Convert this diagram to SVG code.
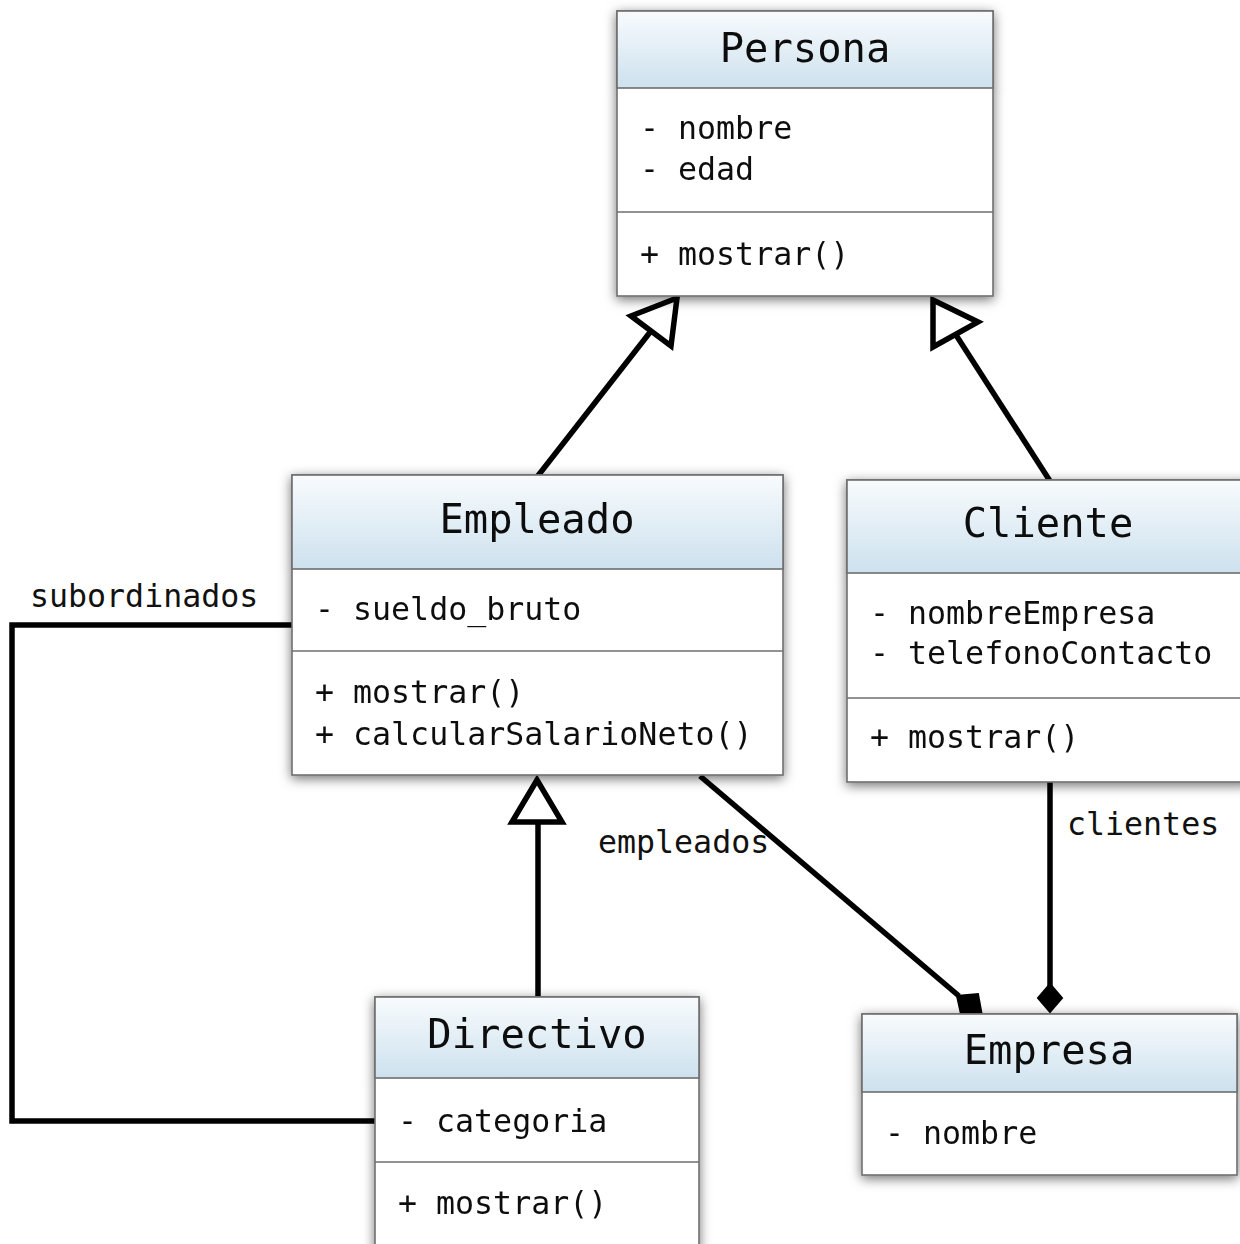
<svg xmlns="http://www.w3.org/2000/svg" width="1240" height="1244" viewBox="0 0 1240 1244">
<defs>
<linearGradient id="hdr" x1="0" y1="0" x2="0" y2="1">
<stop offset="0" stop-color="#f8fbfd"/>
<stop offset="1" stop-color="#cde1ee"/>
</linearGradient>
<filter id="sh" x="-10%" y="-10%" width="120%" height="120%">
<feDropShadow dx="0" dy="3" stdDeviation="6" flood-color="#000" flood-opacity="0.55"/>
</filter>
<style>
.box{fill:#fff;stroke:#6e6e6e;stroke-width:1.6}
.hd{fill:url(#hdr);stroke:#6e6e6e;stroke-width:1.6}
.sep{stroke:#6e6e6e;stroke-width:1.6}
.t{font-family:"DejaVu Sans Mono","Liberation Mono",monospace;font-size:40.5px;fill:#111;text-anchor:middle}
.a{font-family:"DejaVu Sans Mono","Liberation Mono",monospace;font-size:31.6px;fill:#111}
.ln{fill:none;stroke:#000;stroke-width:5.5;stroke-linejoin:miter}
.gen{fill:#fff;stroke:#000;stroke-width:5.5;stroke-linejoin:miter}
.dia{fill:#000;stroke:#000;stroke-width:2}
</style>
</defs>
<rect width="1240" height="1244" fill="#fff"/>
<g id="connectors">
<line class="ln" x1="537" y1="477" x2="651" y2="331"/>
<polygon class="gen" points="677,298 631,316 671,346"/>
<line class="ln" x1="1050" y1="481" x2="956" y2="335"/>
<polygon class="gen" points="933,300 978,322 933,347"/>
<line class="ln" x1="538" y1="998" x2="538" y2="822"/>
<polygon class="gen" points="537,780 512,822 562,822"/>
<line class="ln" x1="700" y1="776" x2="959" y2="996"/>
<polygon class="dia" points="982,1016 961,1014 957,996 978,994"/>
<line class="ln" x1="1050" y1="782" x2="1050" y2="986"/>
<polygon class="dia" points="1050,984 1062,998 1050,1012 1038,998"/>
<polyline class="ln" points="293,625 12,625 12,1121 377,1121"/>
<text class="a" x="30" y="607">subordinados</text>
<text class="a" x="598" y="853">empleados</text>
<text class="a" x="1067" y="835">clientes</text>
</g>
<g id="Persona" filter="url(#sh)">
<rect class="box" x="617" y="11" width="376" height="285"/>
<rect class="hd" x="617" y="11" width="376" height="77"/>
<line class="sep" x1="617" y1="212" x2="993" y2="212"/>
<text class="t" x="805" y="62">Persona</text>
<text class="a" x="640" y="139">- nombre</text>
<text class="a" x="640" y="180">- edad</text>
<text class="a" x="640" y="265">+ mostrar()</text>
</g>
<g id="Empleado" filter="url(#sh)">
<rect class="box" x="292" y="475" width="491" height="300"/>
<rect class="hd" x="292" y="475" width="491" height="94"/>
<line class="sep" x1="292" y1="651" x2="783" y2="651"/>
<text class="t" x="537" y="533">Empleado</text>
<text class="a" x="315" y="620">- sueldo_bruto</text>
<text class="a" x="315" y="703">+ mostrar()</text>
<text class="a" x="315" y="745">+ calcularSalarioNeto()</text>
</g>
<g id="Cliente" filter="url(#sh)">
<rect class="box" x="847" y="480" width="403" height="302"/>
<rect class="hd" x="847" y="480" width="403" height="93"/>
<line class="sep" x1="847" y1="698" x2="1250" y2="698"/>
<text class="t" x="1048" y="537">Cliente</text>
<text class="a" x="870" y="624">- nombreEmpresa</text>
<text class="a" x="870" y="664">- telefonoContacto</text>
<text class="a" x="870" y="748">+ mostrar()</text>
</g>
<g id="Directivo" filter="url(#sh)">
<rect class="box" x="375" y="997" width="324" height="262"/>
<rect class="hd" x="375" y="997" width="324" height="81"/>
<line class="sep" x1="375" y1="1162" x2="699" y2="1162"/>
<text class="t" x="537" y="1048">Directivo</text>
<text class="a" x="398" y="1132">- categoria</text>
<text class="a" x="398" y="1214">+ mostrar()</text>
</g>
<g id="Empresa" filter="url(#sh)">
<rect class="box" x="862" y="1014" width="375" height="161"/>
<rect class="hd" x="862" y="1014" width="375" height="78"/>
<text class="t" x="1049" y="1064">Empresa</text>
<text class="a" x="885" y="1144">- nombre</text>
</g>
</svg>
